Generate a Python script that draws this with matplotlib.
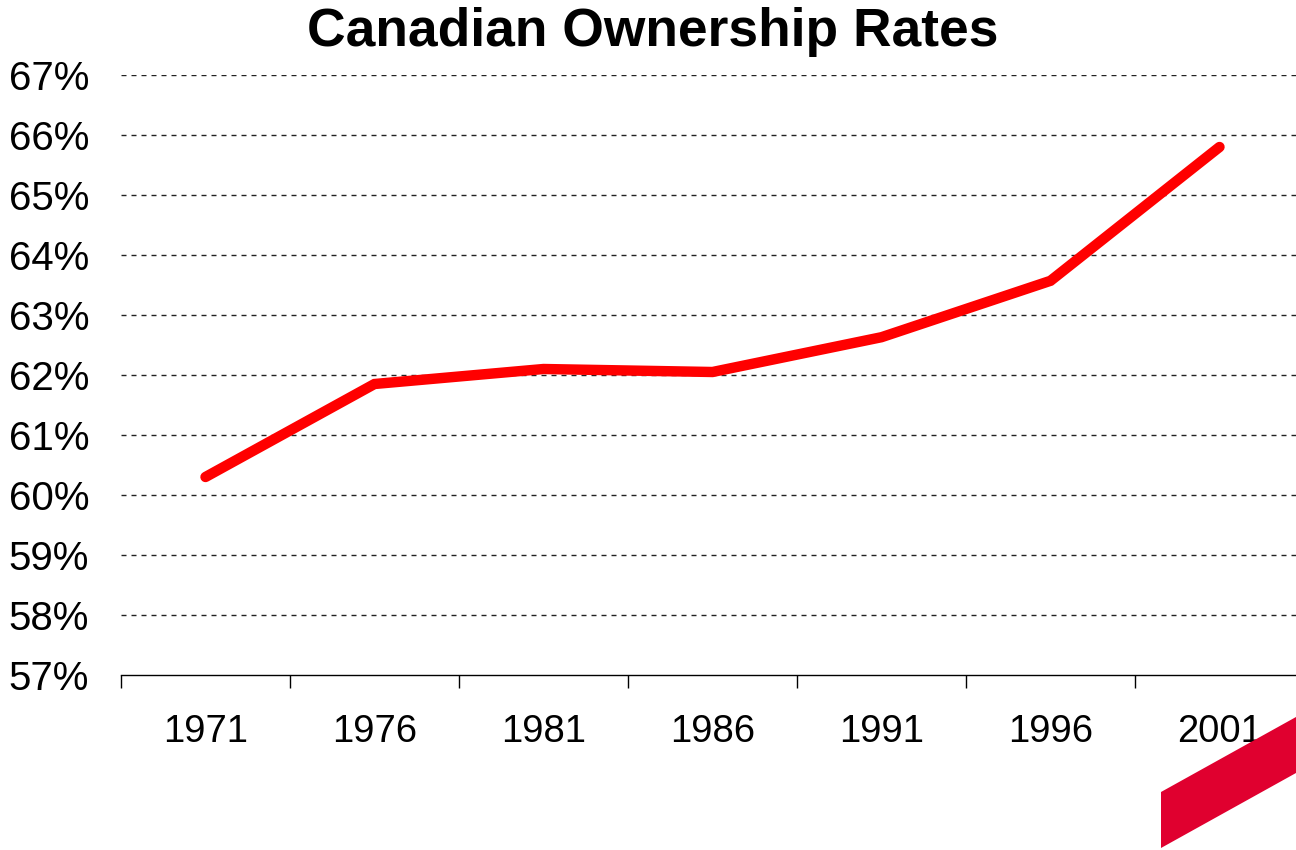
import matplotlib
matplotlib.use("Agg")
import matplotlib.pyplot as plt
from matplotlib.patches import Polygon
import numpy as np

years = ["1971", "1976", "1981", "1986", "1991", "1996", "2001"]
rates = [60.3, 61.85, 62.1, 62.05, 62.63, 63.57, 65.8]
yticks = list(range(57, 68))

plt.rcParams['font.family'] = ['Liberation Sans', 'DejaVu Sans']

fig = plt.figure(figsize=(12.96, 8.5), dpi=100)
ax = fig.add_axes([121/1296, 1-675/850, 1183/1296, 600/850])

x = np.arange(len(years))
ax.plot(x, rates, color='#ff0000', lw=7.5, solid_capstyle='round', solid_joinstyle='miter', zorder=3)

ax.set_xlim(-0.5, len(years) - 0.5)
ax.set_ylim(57, 67)
ax.set_yticks(yticks)
ax.set_yticklabels([f"{v}%" for v in yticks], fontsize=29)
ax.tick_params(axis='y', length=0, pad=23)
for v in yticks[1:]:
    ax.axhline(v, color='#222222', lw=1.0, ls=(0, (3.6, 3.6)), zorder=1)

ax.set_xticks(x)
ax.set_xticklabels(years, fontsize=27.5)
ax.tick_params(axis='x', which='major', length=0, pad=28)
ax.set_xticks(np.arange(-0.5, len(years)), minor=True)
ax.tick_params(axis='x', which='minor', length=9, width=1.0, direction='out', color='black')

for s in ['top', 'right', 'left']:
    ax.spines[s].set_visible(False)
ax.spines['bottom'].set_linewidth(1.0)

fig.text(653/1296, 1-32/850, "Canadian Ownership Rates", ha='center', va='center',
         fontsize=38.4, fontweight='bold')

poly = Polygon([(1161/1296, 1-792/850), (1296/1296, 1-717/850), (1296/1296, 1-773/850), (1161/1296, 1-848/850)],
               closed=True, transform=fig.transFigure, facecolor='#e0002f', edgecolor='none')
fig.patches.append(poly)

fig.savefig("out.png", dpi=100)
